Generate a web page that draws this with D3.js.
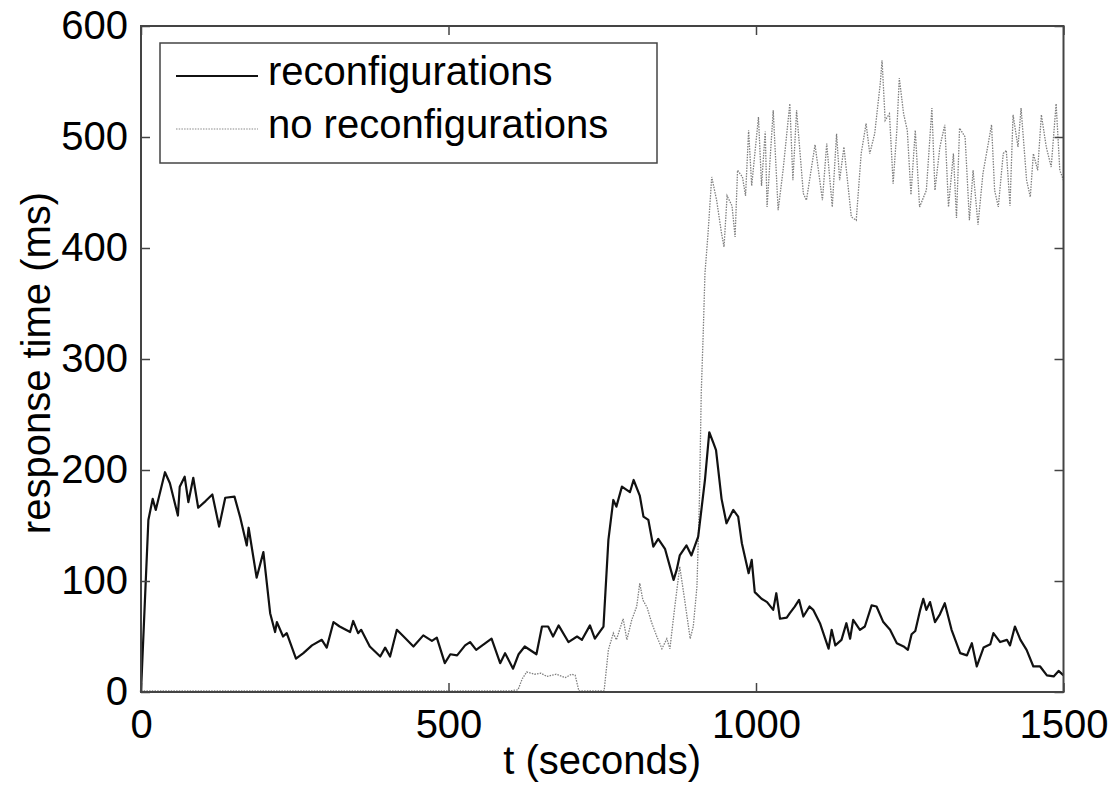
<!DOCTYPE html>
<html>
<head>
<meta charset="utf-8">
<script src="https://cdn.jsdelivr.net/npm/d3@7"></script>
<style>
  html, body { margin: 0; padding: 0; background: #ffffff; }
  svg { display: block; }
  text { font-family: "Liberation Sans", Arial, sans-serif; fill: #000; }
</style>
</head>
<body>
<svg id="chart" width="1119" height="792"></svg>
<script>
// ---- data ----
const seriesNames = ["reconfigurations", "no reconfigurations"];
const xTicks = [0, 500, 1000, 1500];
const yTicks = [0, 100, 200, 300, 400, 500, 600];

const tRec = [0,12,19,24,39,47,60,63,71,77,85,93,105,116,127,137,152,161,172,175,188,199,210,218,221,231,237,252,264,278,294,302,313,323,340,345,353,358,372,389,397,405,416,427,443,459,473,481,494,503,514,527,535,545,570,584,592,605,614,624,643,652,662,670,679,695,709,717,730,738,752,760,768,773,782,795,801,811,817,825,833,841,852,866,871,876,887,895,906,917,924,931,935,944,952,963,971,977,988,993,998,1009,1018,1028,1033,1039,1050,1055,1063,1070,1077,1087,1093,1104,1118,1123,1129,1139,1147,1153,1158,1169,1177,1188,1196,1207,1218,1229,1240,1247,1253,1259,1267,1272,1277,1283,1291,1299,1307,1318,1332,1343,1351,1359,1370,1381,1386,1397,1408,1413,1421,1430,1440,1451,1462,1473,1484,1492,1500];
const vRec = [0,155,174,164,198,188,159,185,194,171,193,166,172,178,149,175,176,158,132,148,103,126,71,54,63,50,53,30,35,42,47,40,63,59,54,64,53,56,41,32,40,32,56,50,41,51,46,49,26,34,33,42,45,38,48,26,35,21,34,41,34,59,59,50,60,45,50,47,60,48,59,137,173,167,185,180,191,177,158,155,131,138,129,101,110,123,132,123,140,191,234,224,218,174,152,164,158,134,107,119,90,84,81,74,89,66,67,71,77,83,68,77,74,62,39,56,42,47,62,48,65,56,59,78,77,63,56,44,41,38,52,55,74,84,74,81,63,70,80,56,35,33,44,23,40,43,53,45,47,42,59,47,38,23,23,15,14,19,15];

const tNoRec = [0,600,613,620,627,640,650,660,675,690,700,706,712,753,760,768,773,784,790,798,806,811,816,823,830,838,847,855,860,868,876,884,893,898,904,908,911,914,917,922,928,936,944,948,953,961,966,970,978,983,988,993,1004,1009,1015,1018,1028,1036,1044,1055,1060,1066,1077,1082,1096,1108,1115,1124,1131,1136,1143,1155,1163,1171,1179,1185,1193,1202,1205,1210,1217,1223,1229,1233,1240,1246,1252,1259,1266,1277,1286,1291,1299,1307,1313,1321,1326,1331,1340,1347,1353,1361,1369,1383,1388,1394,1402,1407,1413,1418,1426,1431,1440,1446,1451,1458,1464,1472,1480,1488,1494,1500];
const vNoRec = [1,1,2,12,18,16,17,14,16,13,16,15,1,1,38,53,47,66,47,65,77,98,83,76,63,51,39,48,39,77,113,83,48,59,95,173,270,320,377,413,464,443,413,401,447,438,410,470,464,447,506,456,518,456,505,437,524,434,470,530,461,524,449,443,493,443,494,437,503,461,491,428,425,485,512,485,503,548,569,515,521,458,506,553,521,506,448,506,437,452,526,452,491,511,437,485,427,508,500,425,470,421,467,511,452,437,485,488,438,520,491,526,461,446,485,470,520,491,473,530,470,461];

(function () {
const svg = d3.select("#chart");
const pLeft = 141, pRight = 1063.5, pTop = 26, pBottom = 692;

const x = d3.scaleLinear().domain([0, 1500]).range([pLeft, pRight]);
const y = d3.scaleLinear().domain([0, 600]).range([pBottom, pTop]);

const axisColor = "#444";

const line = d3.line().x(d => x(d[0])).y(d => y(d[1]));
const dataNo = tNoRec.map((t, i) => [t, vNoRec[i]]);
const dataRec = tRec.map((t, i) => [t, vRec[i]]);

svg.append("path").datum(dataNo)
  .attr("d", line).attr("fill", "none")
  .attr("stroke", "#7f7f7f").attr("stroke-width", 1.3)
  .attr("stroke-dasharray", "1.5,1.2");

svg.append("path").datum(dataRec)
  .attr("d", line).attr("fill", "none")
  .attr("stroke", "#111").attr("stroke-width", 2.2)
  .attr("stroke-linejoin", "round");

function styleAxis(g) {
  g.select(".domain").remove();
  g.selectAll(".tick line").attr("stroke", axisColor).attr("stroke-width", 1.5);
  g.selectAll(".tick text").attr("font-size", 40)
    .attr("font-family", "'Liberation Sans', Arial, sans-serif").attr("fill", "#000");
}

svg.append("g").attr("transform", `translate(0,${pBottom})`)
  .call(d3.axisBottom(x).tickValues(xTicks).tickSize(-9).tickPadding(18).tickFormat(d3.format("d")))
  .call(styleAxis);
svg.append("g").attr("transform", `translate(0,${pTop})`)
  .call(d3.axisTop(x).tickValues(xTicks).tickSize(-9).tickFormat(""))
  .call(styleAxis);
svg.append("g").attr("transform", `translate(${pLeft},0)`)
  .call(d3.axisLeft(y).tickValues(yTicks).tickSize(-9).tickPadding(13).tickFormat(d3.format("d")))
  .call(styleAxis);
svg.append("g").attr("transform", `translate(${pRight},0)`)
  .call(d3.axisRight(y).tickValues(yTicks).tickSize(-9).tickFormat(""))
  .call(styleAxis);

svg.append("rect")
  .attr("x", pLeft).attr("y", pTop)
  .attr("width", pRight - pLeft).attr("height", pBottom - pTop)
  .attr("fill", "none").attr("stroke", axisColor).attr("stroke-width", 2);

svg.append("text")
  .attr("x", (pLeft + pRight) / 2).attr("y", 774)
  .attr("text-anchor", "middle").attr("font-size", 40)
  .text("t (seconds)");
svg.append("text")
  .attr("transform", `translate(50,${(pTop + pBottom) / 2 + 4}) rotate(-90)`)
  .attr("text-anchor", "middle").attr("font-size", 40)
  .text("response time (ms)");

const lg = svg.append("g");
lg.append("rect").attr("x", 160).attr("y", 43).attr("width", 497).attr("height", 120)
  .attr("fill", "#fff").attr("stroke", axisColor).attr("stroke-width", 1.5);
const legendRows = [
  { name: seriesNames[0], ly: 76, ty: 85, stroke: "#111", w: 1.8, dash: null },
  { name: seriesNames[1], ly: 129, ty: 138, stroke: "#8a8a8a", w: 1.2, dash: "1.5,1.2" }
];
legendRows.forEach(r => {
  lg.append("line").attr("x1", 176).attr("x2", 258).attr("y1", r.ly).attr("y2", r.ly)
    .attr("stroke", r.stroke).attr("stroke-width", r.w)
    .attr("stroke-dasharray", r.dash);
  lg.append("text").attr("x", 268).attr("y", r.ty).attr("font-size", 40).text(r.name);
});
})();
</script>
</body>
</html>
